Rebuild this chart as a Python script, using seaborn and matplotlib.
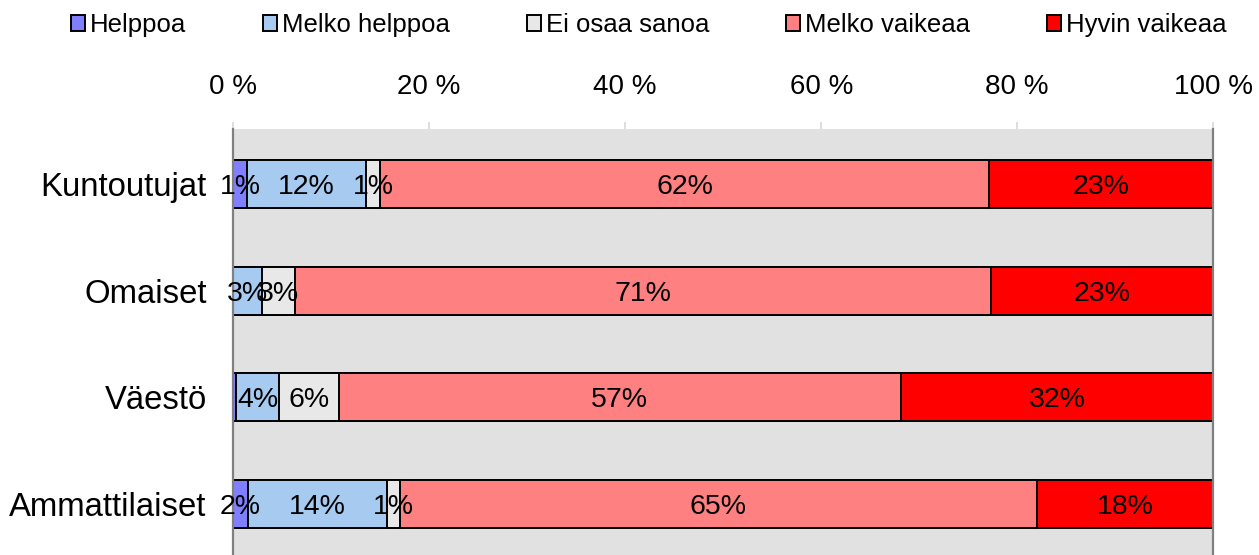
import matplotlib
matplotlib.use("Agg")
import matplotlib.pyplot as plt
from matplotlib.patches import Patch
import seaborn as sns
import pandas as pd

# Survey groups (top to bottom) and answer shares in percent
groups = ["Kuntoutujat", "Omaiset", "Väestö", "Ammattilaiset"]
answers = ["Helppoa", "Melko helppoa", "Ei osaa sanoa", "Melko vaikeaa", "Hyvin vaikeaa"]
helppoa = [1.4, 0.0, 0.3, 1.5]
melko_helppoa = [12.2, 3.0, 4.4, 14.2]
ei_osaa_sanoa = [1.4, 3.3, 6.1, 1.3]
melko_vaikeaa = [62.1, 71.0, 57.3, 65.0]
hyvin_vaikeaa = [22.9, 22.7, 31.9, 18.0]
x_ticks = [0, 20, 40, 60, 80, 100]

colors = ["#7F7FFF", "#A6CAF0", "#E8E8E8", "#FF8080", "#FF0000"]

series = [helppoa, melko_helppoa, ei_osaa_sanoa, melko_vaikeaa, hyvin_vaikeaa]
df = pd.DataFrame({name: vals for name, vals in zip(answers, series)}, index=groups)
cum = df.cumsum(axis=1)

sns.set_theme(style="white")
plt.rcParams["font.family"] = ["Liberation Sans", "DejaVu Sans"]
plt.rcParams["text.color"] = "black"
plt.rcParams["xtick.labelcolor"] = "black"
plt.rcParams["ytick.labelcolor"] = "black"

fig = plt.figure(figsize=(12.59, 5.55), dpi=100)
ax = fig.add_axes([0.1851, -0.0072, 0.7786, 0.7748])
ax.set_facecolor("#E1E1E1")

# Stacked bars: draw cumulative totals from the outermost segment inwards
for name, color in reversed(list(zip(answers, colors))):
    plot_df = pd.DataFrame({"group": groups, "value": cum[name].values})
    sns.barplot(data=plot_df, x="value", y="group", orient="h", color=color,
                width=0.45, edgecolor="black", linewidth=1.4, saturation=1,
                ax=ax)

# Segment value labels
for name in answers:
    for i, g in enumerate(groups):
        v = df.loc[g, name]
        if v < 0.5:
            continue
        center = cum.loc[g, name] - v / 2
        ax.text(center, i, f"{v:.0f}%", ha="center", va="center_baseline",
                fontsize=20.5, color="black")

ax.set_xlim(0, 100)
ax.set_ylim(3.515, -0.515)
ax.xaxis.tick_top()
ax.set_xticks(x_ticks)
ax.set_xticklabels([f"{t} %" for t in x_ticks], fontsize=20)
ax.tick_params(axis="x", which="both", top=True, bottom=False, length=5,
               width=1.2, color="#D8D8D8", pad=16)
ax.tick_params(axis="y", length=0, pad=19, labelsize=23.7)
ax.set_xlabel("")
ax.set_ylabel("")

for side in ["top", "bottom"]:
    ax.spines[side].set_visible(False)
for side in ["left", "right"]:
    ax.spines[side].set_visible(True)
    ax.spines[side].set_color("#808080")
    ax.spines[side].set_linewidth(1.6)

leg_handles = [Patch(facecolor=c, edgecolor="black", linewidth=1.4) for c in colors]
fig.legend(leg_handles, answers, loc="center", bbox_to_anchor=(648.5 / 1259, 0.955),
           ncol=5, frameon=False, fontsize=18.5, handlelength=0.56,
           handleheight=0.56, handletextpad=0.17, columnspacing=3.0,
           borderaxespad=0)

fig.savefig("out.png", dpi=100)
